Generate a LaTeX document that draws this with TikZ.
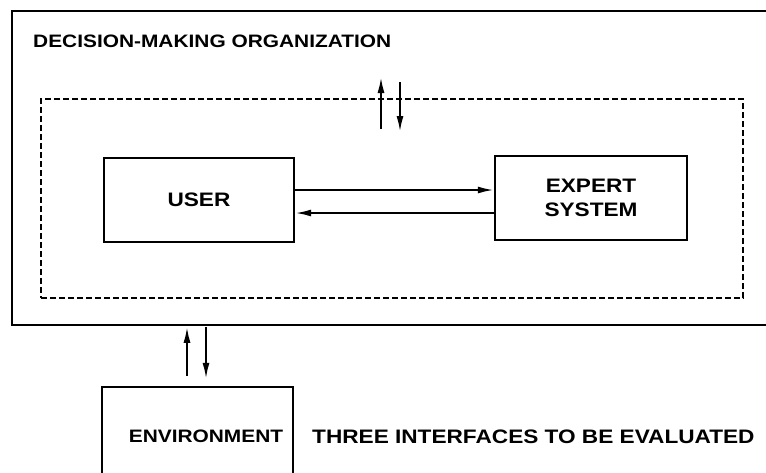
\documentclass[tikz,border=0pt]{standalone}
\usepackage{fontspec}
\setmainfont{Liberation Sans}[FakeStretch=1.16]
\usetikzlibrary{arrows.meta}

\begin{document}
\begin{tikzpicture}[x=1pt,y=-1pt,
    box/.style={draw,line width=2.4pt,inner sep=0pt},
    lbl/.style={font=\fontsize{19.5}{24}\selectfont\bfseries},
    flow/.style={line width=2pt,-{Latex[length=16pt,width=7pt]}}]
  \useasboundingbox (0,0) rectangle (766,472);
  \clip (0,0) rectangle (766,472);
  % outer frame and the dashed inner region
  \node[box,minimum width=788pt,minimum height=314pt] (org) at (406,168) {};
  \node[font=\fontsize{18}{22}\selectfont\bfseries,anchor=base west,inner sep=0pt] (title) at (33,47) {DECISION-MAKING ORGANIZATION};
  \node[draw,line width=2pt,dash pattern=on 6pt off 3pt,minimum width=702pt,minimum height=199pt] (dm) at (392,198.5) {};
  % boxes
  \node[box,lbl,minimum width=190pt,minimum height=84pt] (user) at (199,200) {USER};
  \node[box,lbl,align=center,minimum width=192pt,minimum height=84pt] (expert) at (591,198) {EXPERT\\SYSTEM};
  \node[box,minimum width=191pt,minimum height=98pt] (env) at (197.5,436) {};
  \node[font=\fontsize{18}{22}\selectfont\bfseries,inner sep=0pt] (envlbl) at (206,436) {ENVIRONMENT};
  \node[lbl,anchor=base west,inner sep=0pt] (note) at (312,443) {THREE INTERFACES TO BE EVALUATED};
  % user <-> expert system
  \path[draw,flow] ([yshift=10pt]user.east) -- ([yshift=10pt]user.east -| expert.west);
  \path[draw,flow] ([yshift=-13pt]user.east -| expert.west) -- ([yshift=-13pt]user.east);
  % across the dashed line
  \path[draw,flow] ([xshift=-11pt,yshift=-31pt]dm.north) -- ([xshift=-11pt,yshift=21pt]dm.north);
  \path[draw,flow] ([xshift=8pt,yshift=16pt]dm.north) -- ([xshift=8pt,yshift=-34pt]dm.north);
  % organization <-> environment
  \path[draw,flow] ([xshift=-10.5pt,yshift=10pt]env.north) -- ([xshift=-10.5pt,yshift=59pt]env.north);
  \path[draw,flow] ([xshift=8.5pt,yshift=59pt]env.north) -- ([xshift=8.5pt,yshift=7pt]env.north);
\end{tikzpicture}
\end{document}
